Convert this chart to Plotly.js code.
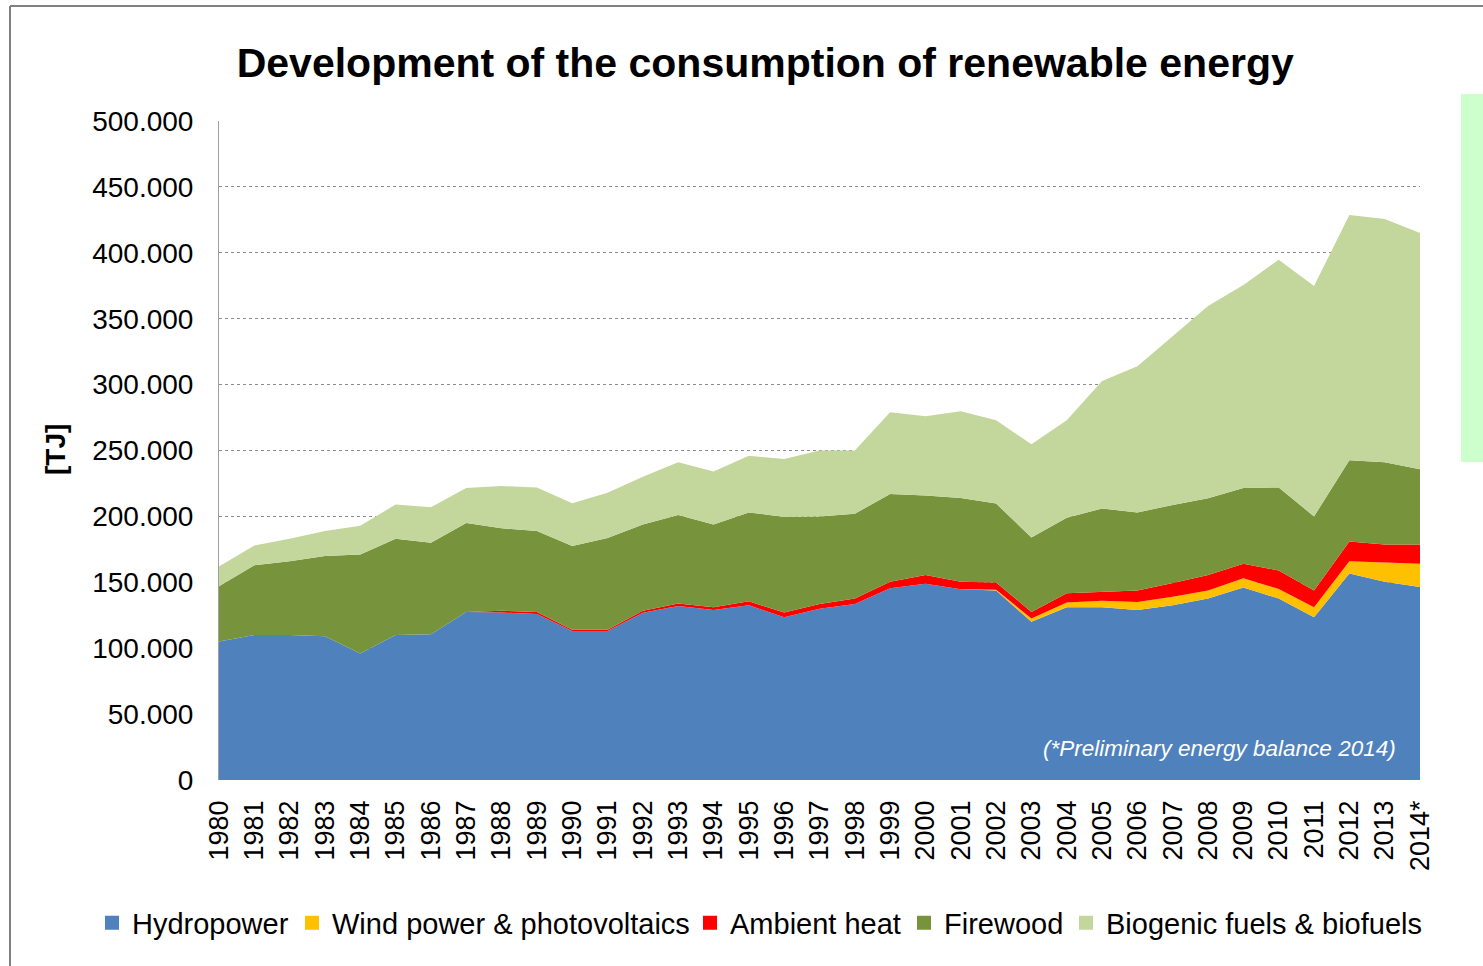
<!DOCTYPE html>
<html>
<head>
<meta charset="utf-8">
<script src="https://cdn.plot.ly/plotly-3.0.1.min.js"></script>
<style>html,body{margin:0;padding:0;background:#fff;}#chart{width:1483px;height:966px;}</style>
</head>
<body>
<div id="chart"></div>
<script>
const years = ["1980","1981","1982","1983","1984","1985","1986","1987","1988","1989","1990","1991","1992","1993","1994","1995","1996","1997","1998","1999","2000","2001","2002","2003","2004","2005","2006","2007","2008","2009","2010","2011","2012","2013","2014*"];
const hydropower = [105000,110000,110000,109000,96000,110000,110500,127500,127000,126000,113000,113000,126900,132000,129000,132600,123500,130000,133600,145500,148900,144800,143800,120000,131000,131000,129000,132600,137700,146000,137700,123500,156600,150500,146500];
const windPV = [0,0,0,0,0,0,0,0,0,0,0,0,0,0,0,0,0,0,0,0,0,0,500,2500,3600,5000,6000,6400,6100,7000,7300,7500,9400,14500,17500];
const ambientHeat = [0,0,0,0,0,0,0,0,1500,1500,1000,1000,1600,2000,2000,3000,3500,3600,4100,5000,6700,5700,5600,5000,7100,7000,8800,10500,11800,11000,14000,12800,15000,13600,14600];
const firewood = [42000,53000,56000,61000,75000,73000,69500,67500,62500,61500,63600,69700,65300,67000,62800,67400,72600,66400,64300,66500,60200,63500,59800,56500,57300,63000,59200,59200,58200,57600,63000,56200,61600,62400,57200];
const biogenic = [15000,15000,17000,19000,22000,26000,27000,26500,32000,33000,32400,34300,36200,40000,40200,43000,44000,50000,48000,62000,60200,65800,63300,70700,74000,96800,111000,127900,145800,154000,172800,174800,186000,184600,179200];
const seriesNames = ["Hydropower","Wind power & photovoltaics","Ambient heat","Firewood","Biogenic fuels & biofuels"];
const seriesColors = ["#4f81bd","#ffc000","#ff0000","#77933c","#c3d69b"];
const yTickVals = [0,50000,100000,150000,200000,250000,300000,350000,400000,450000,500000];
const yTickText = ["0","50.000","100.000","150.000","200.000","250.000","300.000","350.000","400.000","450.000","500.000"];

const seriesValues = [hydropower, windPV, ambientHeat, firewood, biogenic];
const legendIds = ["legend","legend2","legend3","legend4","legend5"];
const legendLeft = [92, 292, 690, 904, 1066];
const data = [];
seriesValues.forEach((vals, i) => {
  data.push({
    type: "scatter", mode: "lines", x: years, y: vals,
    stackgroup: "one", line: {width: 0, color: seriesColors[i]},
    fillcolor: seriesColors[i], name: seriesNames[i], showlegend: false,
    hoverinfo: "x+y+name"
  });
});
seriesNames.forEach((n, i) => {
  data.push({
    type: "scatter", mode: "markers", x: [null], y: [null], name: n,
    marker: {symbol: "square", size: 14, color: seriesColors[i]},
    showlegend: true, legend: legendIds[i]
  });
});

const F = "Liberation Sans, Arial, sans-serif";
const layout = {
  width: 1483, height: 966,
  margin: {l: 219, r: 63, t: 121, b: 186},
  paper_bgcolor: "#ffffff", plot_bgcolor: "#ffffff",
  font: {family: F, color: "#000000", size: 28},
  title: {text: "<b>Development of the consumption of renewable energy</b>",
    font: {family: F, size: 41, color: "#000"}, x: 0.516, xanchor: "center",
    y: 1 - 63/966, yref: "container", yanchor: "middle"},
  xaxis: {type: "category", range: [0, years.length - 1], showgrid: false,
    tickangle: -90, tickfont: {family: F, size: 27, color: "#000"},
    ticks: "", ticklabelstandoff: 14, showline: false, zeroline: false, fixedrange: true},
  yaxis: {range: [0, 500000], tickvals: yTickVals, ticktext: yTickText,
    tickfont: {family: F, size: 28, color: "#000"}, ticks: "", ticklabelstandoff: 19,
    showgrid: true, gridcolor: "#8c8c8c", griddash: "dot", gridwidth: 1,
    showline: true, linecolor: "#a0a0a0", linewidth: 1, zeroline: false, fixedrange: true},
  showlegend: true,
  annotations: [
    {text: "<b>[TJ]</b>", xref: "paper", yref: "paper", x: (55-219)/1201, y: (780-450)/659,
      xanchor: "center", yanchor: "middle", textangle: -90, showarrow: false,
      font: {family: F, size: 28, color: "#000"}},
    {text: "<i>(*Preliminary energy balance 2014)</i>", xref: "paper", yref: "paper",
      x: (1398-219)/1201, y: (780-748)/659, xanchor: "right", yanchor: "middle", showarrow: false,
      font: {family: F, size: 22.5, color: "#ffffff"}}
  ],
  shapes: [
    {type: "line", xref: "paper", yref: "paper", x0: (10-219)/1201, x1: (10-219)/1201,
      y0: (780-6)/659, y1: (780-970)/659, line: {color: "#808080", width: 2}},
    {type: "line", xref: "paper", yref: "paper", x0: (10-219)/1201, x1: (1490-219)/1201,
      y0: (780-6)/659, y1: (780-6)/659, line: {color: "#808080", width: 2}},
    {type: "rect", xref: "paper", yref: "paper", x0: (1461-219)/1201, x1: (1490-219)/1201,
      y0: (780-94)/659, y1: (780-462)/659, fillcolor: "#ccffcc", line: {width: 0}}
  ]
};
legendIds.forEach((id, i) => {
  layout[id] = {orientation: "h", xref: "container", yref: "container",
    x: legendLeft[i]/1483, xanchor: "left", y: 1 - 923/966, yanchor: "middle",
    font: {family: F, size: 29, color: "#000"}, itemwidth: 30,
    bgcolor: "rgba(0,0,0,0)"};
});
Plotly.newPlot("chart", data, layout, {displayModeBar: false, staticPlot: true});
</script>
</body>
</html>
